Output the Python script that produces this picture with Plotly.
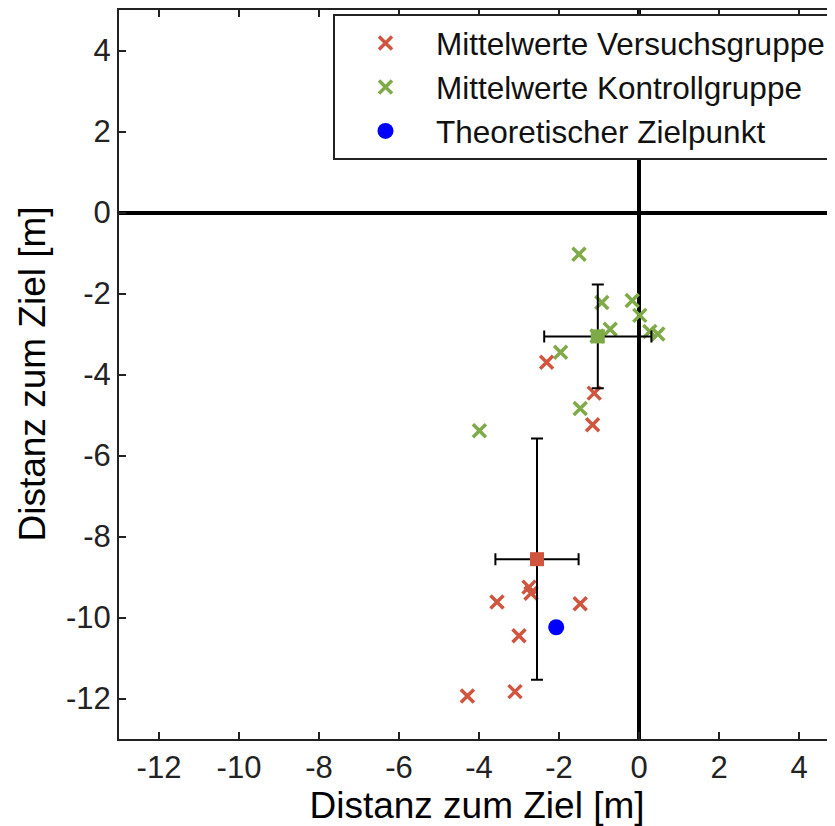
import plotly.graph_objects as go

# Einzelwerte
vers_x = [-2.31, -1.12, -1.16, -2.75, -2.70, -3.55, -1.47, -3.00, -3.10, -4.29]
vers_y = [-3.70, -4.46, -5.24, -9.25, -9.40, -9.62, -9.66, -10.45, -11.83, -11.94]

kontr_x = [-1.50, -0.93, -0.17, 0.02, -0.72, 0.27, 0.47, -1.96, -1.47, -3.99, -1.05]
kontr_y = [-1.03, -2.22, -2.17, -2.54, -2.88, -2.94, -3.00, -3.45, -4.84, -5.39, -3.05]

# Mittelwert + Standardabweichung
vers_mean = [-2.55, -8.56]
vers_sd = [1.04, 2.98]
kontr_mean = [-1.03, -3.06]
kontr_sd = [1.34, 1.28]

ziel = [-2.07, -10.24]

ticks = [-12, -10, -8, -6, -4, -2, 0, 2, 4]
ticklabels = ["-12", "-10", "-8", "-6", "-4", "-2", "0", "2", "4"]

red = "#D0553F"
green = "#7FAA48"

fig = go.Figure()

fig.add_trace(go.Scatter(x=vers_x, y=vers_y, mode="markers", name="Mittelwerte Versuchsgruppe",
                         marker=dict(symbol="x-thin", size=13, line=dict(color=red, width=3.5))))
fig.add_trace(go.Scatter(x=kontr_x, y=kontr_y, mode="markers", name="Mittelwerte Kontrollgruppe",
                         marker=dict(symbol="x-thin", size=13, line=dict(color=green, width=3.5))))
fig.add_trace(go.Scatter(x=[ziel[0]], y=[ziel[1]], mode="markers", name="Theoretischer Zielpunkt",
                         marker=dict(symbol="circle", size=16, color="#0000FF")))

for m, sd, col in [(vers_mean, vers_sd, red), (kontr_mean, kontr_sd, green)]:
    fig.add_trace(go.Scatter(
        x=[m[0]], y=[m[1]], mode="markers", showlegend=False,
        marker=dict(symbol="square", size=14, color=col),
        error_x=dict(type="data", array=[sd[0]], color="black", thickness=2, width=6),
        error_y=dict(type="data", array=[sd[1]], color="black", thickness=2, width=6),
    ))

fnt = "Liberation Sans, Arial, sans-serif"

fig.update_xaxes(range=[-13, 4.9], tickvals=ticks, ticktext=ticklabels,
                 ticks="inside", ticklen=7, tickwidth=1.5, tickcolor="#222",
                 showline=True, linecolor="#222", linewidth=2, mirror="ticks",
                 showgrid=False, zeroline=True, zerolinecolor="black", zerolinewidth=3.5,
                 tickfont=dict(size=31, color="#222"),
                 title=dict(text="Distanz zum Ziel [m]", font=dict(size=37, color="black"), standoff=4))
fig.update_yaxes(range=[-13, 5], tickvals=ticks, ticktext=ticklabels,
                 ticks="inside", ticklen=7, tickwidth=1.5, tickcolor="#222",
                 showline=True, linecolor="#222", linewidth=2, mirror=False,
                 showgrid=False, zeroline=True, zerolinecolor="black", zerolinewidth=3.5,
                 tickfont=dict(size=31, color="#222"))

# y-Achsentitel als Annotation, damit er weiter links sitzt
fig.add_annotation(text="Distanz zum Ziel [m]", textangle=-90, showarrow=False,
                   xref="paper", yref="paper", x=-0.1215, y=0.5,
                   xanchor="center", yanchor="middle",
                   font=dict(size=37, color="black"))

fig.update_layout(
    width=827, height=818,
    margin=dict(l=111, r=0, t=2, b=87, autoexpand=False),
    plot_bgcolor="white", paper_bgcolor="white",
    font=dict(family=fnt, color="black"),
    legend=dict(x=0.9958, y=0.9945, xanchor="right", yanchor="top",
                bordercolor="#222", borderwidth=2, bgcolor="white",
                font=dict(size=31.5, color="#111"), tracegroupgap=0, itemwidth=91),
)

fig.write_html("out.html")
